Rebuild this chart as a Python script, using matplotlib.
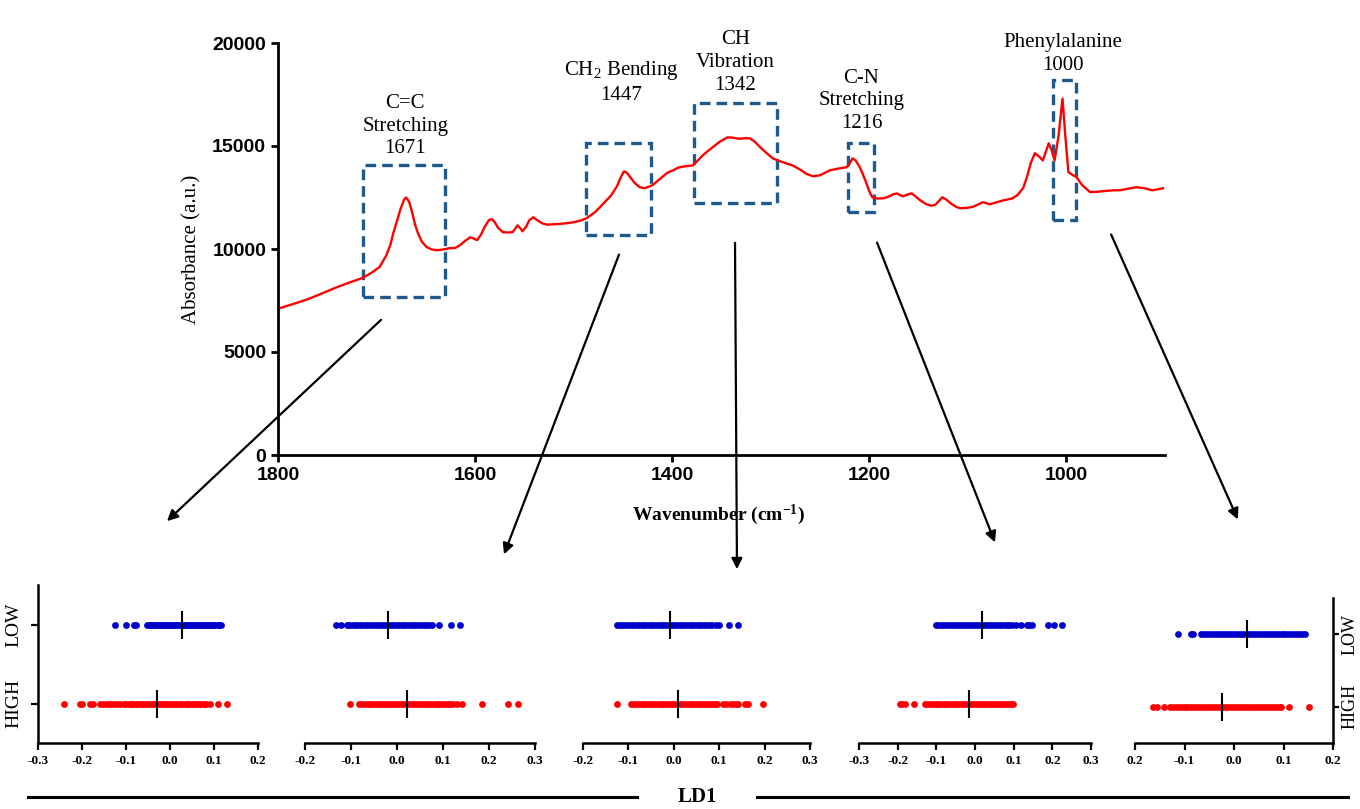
import matplotlib
matplotlib.use("Agg")
import matplotlib.pyplot as plt
from matplotlib.patches import Rectangle
from matplotlib.lines import Line2D

# spectrum
wavenumber = [1800, 1790, 1780, 1770, 1760, 1750, 1740, 1727, 1714, 1705,
              1697, 1690, 1686, 1683, 1679, 1676, 1672, 1670, 1667, 1664,
              1661, 1658, 1654, 1649, 1644, 1639, 1632, 1626, 1620, 1615,
              1610, 1605, 1601, 1598, 1594, 1590, 1586, 1583, 1580, 1577,
              1572, 1567, 1562, 1559, 1557, 1554, 1552, 1548, 1545, 1541,
              1537, 1532, 1527, 1520, 1514, 1507, 1500, 1493, 1487, 1478,
              1470, 1462, 1456, 1452, 1449, 1446, 1442, 1438, 1433, 1428,
              1424, 1420, 1415, 1410, 1405, 1399, 1394, 1389, 1384, 1379,
              1374, 1369, 1364, 1359, 1352, 1344, 1338, 1332, 1326, 1321,
              1316, 1310, 1304, 1298, 1290, 1284, 1278, 1270, 1264, 1257,
              1250, 1245, 1240, 1232, 1223, 1220, 1217, 1214, 1210, 1207,
              1203, 1200, 1197, 1192, 1186, 1180, 1176, 1172, 1169, 1166,
              1161, 1157, 1153, 1148, 1142, 1137, 1133, 1129, 1126, 1122,
              1117, 1112, 1108, 1100, 1095, 1090, 1085, 1081, 1078, 1072,
              1065, 1060, 1055, 1050, 1044, 1040, 1036, 1032, 1028, 1024,
              1021, 1018, 1015, 1012, 1008, 1004, 1001, 998, 994, 990,
              984, 976, 968, 960, 952, 946, 938, 929, 921, 913,
              907, 902]
absorbance = [7100, 7250, 7400, 7560, 7750, 7950, 8150, 8380, 8600, 8850,
              9120, 9700, 10200, 10770, 11400, 11900, 12400, 12500, 12300, 11800,
              11200, 10770, 10350, 10090, 9980, 9940, 9980, 10040, 10050, 10200,
              10400, 10570, 10500, 10430, 10700, 11100, 11400, 11450, 11300, 11050,
              10820, 10800, 10820, 11000, 11150, 11000, 10860, 11100, 11400, 11540,
              11400, 11250, 11180, 11200, 11220, 11250, 11300, 11380, 11490, 11800,
              12200, 12600, 13050, 13500, 13770, 13700, 13450, 13200, 13000, 12950,
              13020, 13100, 13300, 13500, 13700, 13820, 13950, 14000, 14030, 14060,
              14300, 14550, 14750, 14940, 15200, 15420, 15400, 15350, 15380, 15370,
              15200, 14900, 14650, 14400, 14250, 14150, 14060, 13850, 13650, 13530,
              13580, 13700, 13820, 13900, 13970, 14150, 14400, 14300, 14000, 13680,
              13200, 12800, 12510, 12450, 12460, 12550, 12650, 12700, 12620, 12560,
              12650, 12700, 12550, 12350, 12170, 12100, 12150, 12350, 12510, 12400,
              12200, 12050, 11980, 12000, 12050, 12150, 12270, 12220, 12170, 12250,
              12350, 12400, 12460, 12600, 12950, 13500, 14200, 14650, 14500, 14300,
              14700, 15130, 14800, 14300, 15500, 17300, 15400, 13730, 13600, 13500,
              13100, 12760, 12780, 12820, 12850, 12850, 12920, 13000, 12950, 12850,
              12900, 12950]

# highlighted bands: (wn left, wn right, abs low, abs high)
band_wn_left = [1714, 1487, 1378, 1222, 1014]
band_wn_right = [1631, 1422, 1294, 1195, 990]
band_low = [7660, 10670, 12220, 11790, 11400]
band_high = [14065, 15130, 17070, 15130, 18190]

peak_labels = ["C=C\nStretching\n1671", "CH$_2$ Bending\n1447", "CH\nVibration\n1342",
               "C-N\nStretching\n1216", "Phenylalanine\n1000"]
peak_label_wn = [1671, 1452, 1336, 1208, 1004]
peak_label_base = [14400, 17000, 17500, 15650, 18450]

# LD1 scores per band
low_scores = [
    [-0.125, -0.100, -0.082, -0.078, -0.053, -0.048, -0.044, -0.040, -0.035, -0.031, -0.027, -0.022,
     -0.018, -0.014, -0.010, -0.005, -0.001, 0.003, 0.008, 0.012, 0.016, 0.021, 0.025, 0.030, 0.034,
     0.038, 0.043, 0.047, 0.051, 0.056, 0.060, 0.064, 0.069, 0.073, 0.077, 0.082, 0.086, 0.090, 0.095,
     0.099, 0.103, 0.108, 0.112, 0.115],
    [-0.132, -0.122, -0.108, -0.104, -0.098, -0.092, -0.086, -0.080, -0.074, -0.068, -0.062, -0.056,
     -0.050, -0.044, -0.038, -0.032, -0.026, -0.020, -0.014, -0.008, -0.002, 0.004, 0.010, 0.016, 0.022,
     0.028, 0.034, 0.040, 0.046, 0.052, 0.058, 0.064, 0.070, 0.076, 0.091, 0.117, 0.137],
    [-0.125, -0.119, -0.113, -0.107, -0.101, -0.095, -0.089, -0.083, -0.077, -0.071, -0.065, -0.059,
     -0.053, -0.047, -0.041, -0.035, -0.029, -0.023, -0.017, -0.011, -0.005, 0.001, 0.007, 0.013, 0.019,
     0.025, 0.031, 0.037, 0.043, 0.049, 0.055, 0.061, 0.067, 0.073, 0.079, 0.085, 0.092, 0.100, 0.122, 0.141],
    [-0.100, -0.093, -0.086, -0.079, -0.072, -0.065, -0.058, -0.051, -0.044, -0.037, -0.030, -0.023,
     -0.016, -0.009, -0.002, 0.005, 0.012, 0.019, 0.026, 0.033, 0.040, 0.047, 0.054, 0.061, 0.068, 0.075,
     0.082, 0.089, 0.095, 0.105, 0.118, 0.135, 0.140, 0.148, 0.190, 0.205, 0.225],
    [-0.113, -0.087, -0.083, -0.066, -0.060, -0.054, -0.048, -0.042, -0.036, -0.030, -0.024, -0.018,
     -0.012, -0.006, 0.000, 0.006, 0.012, 0.018, 0.024, 0.030, 0.036, 0.042, 0.048, 0.054, 0.060, 0.066,
     0.072, 0.078, 0.084, 0.090, 0.096, 0.102, 0.108, 0.114, 0.120, 0.126, 0.132, 0.138, 0.143],
]
high_scores = [
    [-0.240, -0.205, -0.200, -0.182, -0.176, -0.160, -0.152, -0.146, -0.138, -0.133, -0.127, -0.120,
     -0.114, -0.105, -0.099, -0.094, -0.088, -0.083, -0.077, -0.072, -0.066, -0.061, -0.055, -0.050,
     -0.044, -0.039, -0.033, -0.028, -0.022, -0.017, -0.011, -0.006, 0.000, 0.005, 0.011, 0.016, 0.022,
     0.027, 0.033, 0.038, 0.044, 0.049, 0.055, 0.060, 0.066, 0.071, 0.077, 0.082, 0.092, 0.110, 0.130],
    [-0.102, -0.082, -0.076, -0.070, -0.064, -0.058, -0.052, -0.046, -0.040, -0.034, -0.028, -0.022,
     -0.016, -0.010, -0.004, 0.002, 0.008, 0.014, 0.020, 0.026, 0.032, 0.038, 0.044, 0.050, 0.056, 0.062,
     0.068, 0.074, 0.080, 0.086, 0.092, 0.098, 0.104, 0.110, 0.116, 0.122, 0.130, 0.141, 0.185, 0.241, 0.263],
    [-0.125, -0.095, -0.089, -0.083, -0.077, -0.071, -0.065, -0.059, -0.053, -0.047, -0.041, -0.035,
     -0.029, -0.023, -0.017, -0.011, -0.005, 0.001, 0.007, 0.013, 0.019, 0.025, 0.031, 0.037, 0.043,
     0.049, 0.055, 0.061, 0.067, 0.073, 0.079, 0.085, 0.091, 0.095, 0.108, 0.115, 0.124, 0.130, 0.137,
     0.142, 0.157, 0.163, 0.197],
    [-0.195, -0.188, -0.180, -0.157, -0.130, -0.123, -0.116, -0.109, -0.102, -0.095, -0.088, -0.081,
     -0.074, -0.067, -0.060, -0.053, -0.046, -0.039, -0.032, -0.025, -0.018, -0.011, -0.004, 0.003, 0.010,
     0.017, 0.024, 0.031, 0.038, 0.045, 0.052, 0.059, 0.066, 0.073, 0.080, 0.087, 0.094, 0.098],
    [-0.164, -0.156, -0.142, -0.130, -0.124, -0.118, -0.112, -0.106, -0.100, -0.094, -0.088, -0.082,
     -0.076, -0.070, -0.064, -0.058, -0.052, -0.046, -0.040, -0.034, -0.028, -0.022, -0.016, -0.010,
     -0.004, 0.002, 0.008, 0.014, 0.020, 0.026, 0.032, 0.038, 0.044, 0.050, 0.056, 0.062, 0.068, 0.074,
     0.080, 0.086, 0.092, 0.094, 0.111, 0.152],
]
low_means = [0.028, -0.020, -0.008, 0.018, 0.026]
high_means = [-0.030, 0.022, 0.010, -0.016, -0.024]
panel_xlims = [(-0.3, 0.2), (-0.2, 0.3), (-0.2, 0.3), (-0.3, 0.3), (-0.2, 0.2)]
panel_xticklabels = [["-0.3", "-0.2", "-0.1", "0.0", "0.1", "0.2"],
                     ["-0.2", "-0.1", "0.0", "0.1", "0.2", "0.3"],
                     ["-0.2", "-0.1", "0.0", "0.1", "0.2", "0.3"],
                     ["-0.3", "-0.2", "-0.1", "0.0", "0.1", "0.2", "0.3"],
                     ["0.2", "-0.1", "0.0", "0.1", "0.2"]]
group_names = ["HIGH", "LOW"]

SERIF = "Liberation Serif"
SANS = "Liberation Sans"
plt.rcParams["mathtext.fontset"] = "custom"
plt.rcParams["mathtext.rm"] = SERIF
plt.rcParams["mathtext.it"] = SERIF + ":italic"
plt.rcParams["mathtext.bf"] = SERIF + ":bold"

W, H = 1360, 809
fig = plt.figure(figsize=(W / 100, H / 100), dpi=100)


def box(l, t, r, b):
    # pixel box (from top-left) -> figure fraction rect
    return [l / W, (H - b) / H, (r - l) / W, (b - t) / H]


# ---- top spectrum
ax = fig.add_axes(box(278, 43, 1165, 455))
ax.plot(wavenumber, absorbance, color="red", lw=1.7)
ax.set_xlim(1800, 900)
ax.set_ylim(0, 20000)
ax.set_xticks([1800, 1600, 1400, 1200, 1000])
ax.set_yticks([0, 5000, 10000, 15000, 20000])
for s in ["top", "right"]:
    ax.spines[s].set_visible(False)
for s in ["left", "bottom"]:
    ax.spines[s].set_linewidth(2)
ax.tick_params(width=2, length=5, labelsize=14)
for lab in ax.get_xticklabels() + ax.get_yticklabels():
    lab.set_fontfamily(SANS)
    lab.set_fontweight("bold")
ax.set_ylabel("Absorbance (a.u.)", fontfamily=SERIF, fontsize=15, labelpad=8)
ax.text(0.497, -0.145, r"Wavenumber (cm$^{\mathbf{-1}}$)", transform=ax.transAxes, ha="center",
        va="center", fontfamily=SERIF, fontweight="bold", fontsize=14)

for i in range(len(band_wn_left)):
    ax.add_patch(Rectangle((band_wn_left[i], band_low[i]), band_wn_right[i] - band_wn_left[i],
                           band_high[i] - band_low[i], fill=False, edgecolor="#1f5a8c", lw=2.4,
                           linestyle=(0, (3.2, 1.8)), clip_on=False))
    ax.text(peak_label_wn[i], peak_label_base[i], peak_labels[i], ha="center", va="bottom",
            fontfamily=SERIF, fontsize=15, linespacing=1.25, clip_on=False)

# arrows from bands to LD1 panels (figure pixels, top-left origin)
arrows = [((383, 318), (165, 523)), ((620, 252), (503, 557)), ((735, 240), (737, 572)),
          ((876, 240), (996, 545)), ((1110, 232), (1239, 522))]
for (x1, y1), (x2, y2) in arrows:
    ax.annotate("", xy=(x2, H - y2), xytext=(x1, H - y1), xycoords="figure pixels",
                textcoords="figure pixels", annotation_clip=False,
                arrowprops=dict(arrowstyle="-|>", color="black", lw=1.6, mutation_scale=16))

# ---- bottom LD1 panels
panel_boxes = [(38, 585, 258, 743), (305, 585, 535, 743), (583, 585, 810, 743),
               (859, 585, 1091, 743), (1135, 598, 1333, 743)]
for i in range(5):
    pax = fig.add_axes(box(*panel_boxes[i]))
    pax.scatter(high_scores[i], [1] * len(high_scores[i]), s=24, color="#ff0000", linewidths=0, zorder=2)
    pax.scatter(low_scores[i], [2] * len(low_scores[i]), s=24, color="#0000cc", linewidths=0, zorder=2)
    pax.plot([high_means[i]], [1], marker="|", ms=20, mew=1.5, color="black", zorder=3)
    pax.plot([low_means[i]], [2], marker="|", ms=20, mew=1.5, color="black", zorder=3)
    lo, hi = panel_xlims[i]
    pax.set_xlim(lo, hi)
    pax.set_ylim(0.5, 2.5)
    ticks = [round(lo + 0.1 * k, 1) for k in range(len(panel_xticklabels[i]))]
    pax.set_xticks(ticks)
    pax.set_xticklabels(panel_xticklabels[i], fontfamily=SERIF, fontweight="bold", fontsize=9.5)
    pax.tick_params(axis="x", width=1.6, length=5, pad=4)
    for s in ["top", "left", "right"]:
        pax.spines[s].set_visible(False)
    pax.spines["bottom"].set_linewidth(1.8)
    pax.set_yticks([1, 2])
    if i == 0:
        pax.spines["left"].set_visible(True)
        pax.spines["left"].set_linewidth(1.8)
        pax.set_yticklabels(group_names, rotation=90, va="center", fontfamily=SERIF, fontsize=14)
        pax.tick_params(axis="y", width=1.6, length=5, pad=6)
    elif i == 4:
        pax.spines["right"].set_visible(True)
        pax.spines["right"].set_linewidth(1.8)
        pax.yaxis.tick_right()
        pax.set_yticklabels(group_names, rotation=90, va="center", fontfamily=SERIF, fontsize=13)
        pax.tick_params(axis="y", width=1.6, length=4, pad=2)
    else:
        pax.tick_params(axis="y", left=False, labelleft=False)

# ---- LD1 axis label with lines
ly = (H - 797) / H
fig.add_artist(Line2D([28 / W, 637 / W], [ly, ly], color="black", lw=2.2))
fig.add_artist(Line2D([757 / W, 1348 / W], [ly, ly], color="black", lw=2.2))
fig.text(697 / W, ly, "LD1", ha="center", va="center", fontfamily=SERIF, fontweight="bold", fontsize=15)

fig.savefig("out.png", dpi=100)
